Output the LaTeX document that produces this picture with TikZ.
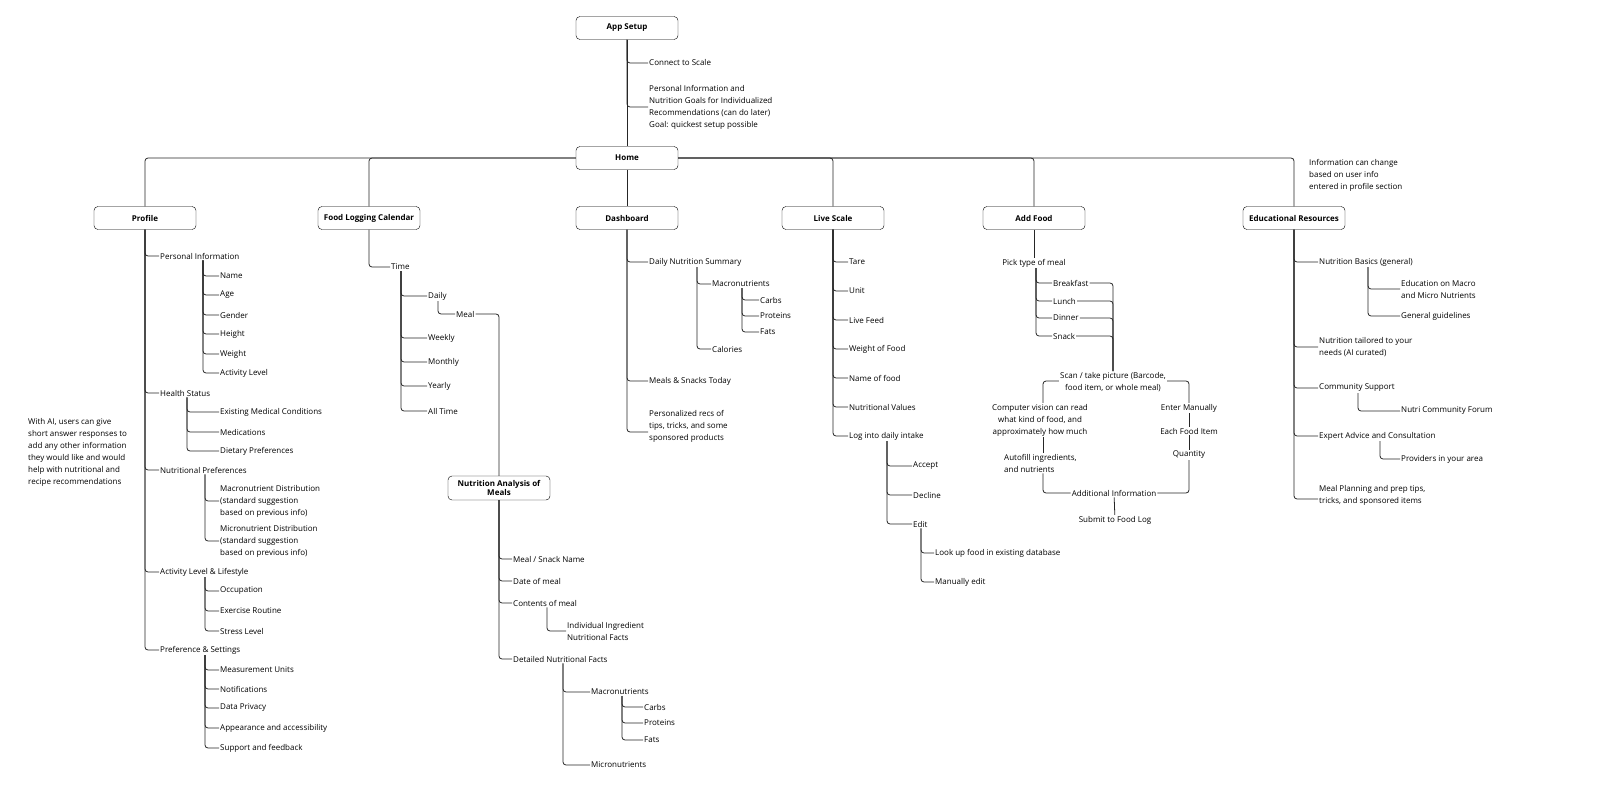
\documentclass[tikz,border=0pt]{standalone}
\usepackage{fontspec}
\setmainfont{Open Sans}
\begin{document}
\begin{tikzpicture}[x=1pt,y=-1pt,
  box/.style={draw,rounded corners=4pt,minimum width=102pt,minimum height=23pt,font=\fontsize{8}{9.5}\selectfont\bfseries,align=center,inner sep=2pt,fill=white},
  t/.style={anchor=west,inner sep=1pt,font=\fontsize{8}{12}\selectfont,align=left},
  tc/.style={inner sep=1pt,font=\fontsize{8}{12}\selectfont,align=center},
  ln/.style={draw,line width=0.8pt,rounded corners=3pt,color=black!85}]
\newcommand{\conn}[3]{\path[ln] (#1,0 |- #2.south) |- (#3.west);}
\useasboundingbox (0,0) rectangle (1600,800);
% boxes
\node[box] (app) at (627,28) {App Setup};
\node[box] (home) at (627,158) {Home};
\node[box] (prof) at (145,218) {Profile};
\node[box] (flc) at (369,218) {Food Logging Calendar};
\node[box] (dash) at (627,218) {Dashboard};
\node[box] (live) at (833,218) {Live Scale};
\node[box] (add) at (1034,218) {Add Food};
\node[box] (edu) at (1294,218) {Educational Resources};
\node[box,minimum height=24pt,font=\fontsize{8}{9}\selectfont\bfseries] (nam) at (499,488) {Nutrition Analysis of\\Meals};
% app setup
\node[t] (cs) at (648,63) {Connect to Scale};
\node[t] (pinfo) at (648,107) {Personal Information and\\Nutrition Goals for Individualized\\Recommendations (can do later)\\Goal: quickest setup possible};
\path[ln] (app) -- (home);
\conn{627}{app}{cs}
\conn{627}{app}{pinfo}
% home bar
\path[ln] (home.west) -| (prof.north);
\path[ln] (home.west) -| (flc.north);
\path[ln] (home.east) -| (live.north);
\path[ln] (home.east) -| (add.north);
\path[ln] (home.east) -| (edu.north);
\path[ln] (home) -- (dash);
\node[t] at (1308,175) {Information can change\\based on user info\\entered in profile section};
% Profile
\node[t] (pi) at (159,256) {Personal Information};
\node[t] (hs) at (159,393) {Health Status};
\node[t] (np) at (159,470) {Nutritional Preferences};
\node[t] (al) at (159,572) {Activity Level \& Lifestyle};
\node[t] (ps) at (159,650) {Preference \& Settings};
\foreach \n in {pi,hs,np,al,ps}{\conn{145}{prof}{\n}}
\node[t] (p1) at (219,276) {Name};
\node[t] (p2) at (219,295) {Age};
\node[t] (p3) at (219,315) {Gender};
\node[t] (p4) at (219,334) {Height};
\node[t] (p5) at (219,354) {Weight};
\node[t] (p6) at (219,373) {Activity Level};
\foreach \n in {p1,p2,p3,p4,p5,p6}{\conn{203}{pi}{\n}}
\node[t] (h1) at (219,412) {Existing Medical Conditions};
\node[t] (h2) at (219,432) {Medications};
\node[t] (h3) at (219,451) {Dietary Preferences};
\foreach \n in {h1,h2,h3}{\conn{187}{hs}{\n}}
\node[t] (n1) at (219,501) {Macronutrient Distribution\\(standard suggestion\\based on previous info)};
\node[t] (n2) at (219,541) {Micronutrient Distribution\\(standard suggestion\\based on previous info)};
\conn{205}{np}{n1}
\conn{205}{np}{n2}
\node[t] (a1) at (219,591) {Occupation};
\node[t] (a2) at (219,611) {Exercise Routine};
\node[t] (a3) at (219,631) {Stress Level};
\foreach \n in {a1,a2,a3}{\conn{205}{al}{\n}}
\node[t] (s1) at (219,670) {Measurement Units};
\node[t] (s2) at (219,689) {Notifications};
\node[t] (s3) at (219,708) {Data Privacy};
\node[t] (s4) at (219,728) {Appearance and accessibility};
\node[t] (s5) at (219,748) {Support and feedback};
\foreach \n in {s1,s2,s3,s4,s5}{\conn{205}{ps}{\n}}
\node[t] at (27,452) {With AI, users can give\\short answer responses to\\add any other information\\they would like and would\\help with nutritional and\\recipe recommendations};
% Food logging calendar
\node[t] (time) at (390,267) {Time};
\conn{369}{flc}{time}
\node[t] (d1) at (427,296) {Daily};
\node[t] (d2) at (427,338) {Weekly};
\node[t] (d3) at (427,362) {Monthly};
\node[t] (d4) at (427,386) {Yearly};
\node[t] (d5) at (427,411) {All Time};
\foreach \n in {d1,d2,d3,d4,d5}{\conn{401}{time}{\n}}
\node[t] (meal) at (455,314) {Meal};
\conn{438}{d1}{meal}
\path[ln] (meal.east) -| (nam.north);
\node[t] (m1) at (512,559) {Meal / Snack Name};
\node[t] (m2) at (512,581) {Date of meal};
\node[t] (m3) at (512,603) {Contents of meal};
\node[t] (m4) at (512,659) {Detailed Nutritional Facts};
\foreach \n in {m1,m2,m3,m4}{\conn{499}{nam}{\n}}
\node[t] (ii) at (566,631) {Individual Ingredient\\Nutritional Facts};
\conn{547}{m3}{ii}
\node[t] (mac) at (590,692) {Macronutrients};
\node[t] (mic) at (590,765) {Micronutrients};
\conn{563}{m4}{mac}
\conn{563}{m4}{mic}
\node[t] (c1) at (643,707) {Carbs};
\node[t] (c2) at (643,723) {Proteins};
\node[t] (c3) at (643,740) {Fats};
\foreach \n in {c1,c2,c3}{\conn{622}{mac}{\n}}
% Dashboard
\node[t] (dn) at (648,262) {Daily Nutrition Summary};
\node[t] (ms) at (648,381) {Meals \& Snacks Today};
\node[t] (pr) at (648,426) {Personalized recs of\\tips, tricks, and some\\sponsored products};
\conn{627}{dash}{dn}
\conn{627}{dash}{ms}
\path[ln] (627,0 |- dash.south) |- ([yshift=-6pt]pr.west);
\node[t] (dm) at (711,284) {Macronutrients};
\node[t] (dc) at (711,349) {Calories};
\conn{697}{dn}{dm}
\conn{697}{dn}{dc}
\node[t] (e1) at (759,300) {Carbs};
\node[t] (e2) at (759,316) {Proteins};
\node[t] (e3) at (759,332) {Fats};
\foreach \n in {e1,e2,e3}{\conn{742}{dm}{\n}}
% Live scale
\node[t] (l1) at (848,262) {Tare};
\node[t] (l2) at (848,291) {Unit};
\node[t] (l3) at (848,320) {Live Feed};
\node[t] (l4) at (848,349) {Weight of Food};
\node[t] (l5) at (848,378) {Name of food};
\node[t] (l6) at (848,407) {Nutritional Values};
\node[t] (l7) at (848,436) {Log into daily intake};
\foreach \n in {l1,l2,l3,l4,l5,l6,l7}{\conn{833}{live}{\n}}
\node[t] (g1) at (912,466) {Accept};
\node[t] (g2) at (912,495) {Decline};
\node[t] (g3) at (912,524) {Edit};
\foreach \n in {g1,g2,g3}{\conn{887}{l7}{\n}}
\node[t] (k1) at (934,553) {Look up food in existing database};
\node[t] (k2) at (934,582) {Manually edit};
\conn{921}{g3}{k1}
\conn{921}{g3}{k2}
% Add food
\node[tc] (pick) at (1034,263) {Pick type of meal};
\path[ln] (add) -- (pick);
\node[t] (b1) at (1052,283) {Breakfast};
\node[t] (b2) at (1052,301) {Lunch};
\node[t] (b3) at (1052,318) {Dinner};
\node[t] (b4) at (1052,336) {Snack};
\foreach \n in {b1,b2,b3,b4}{\conn{1036}{pick}{\n}}
\node[tc] (scan) at (1113,382) {Scan / take picture (Barcode,\\food item, or whole meal)};
\foreach \n in {b1,b2,b3,b4}{\path[ln] (\n.east) -| (scan.north);}
\node[tc] (cv) at (1040,420) {Computer vision can read\\what kind of food, and\\approximately how much};
\node[t] (af) at (1003,463) {Autofill ingredients,\\and nutrients};
\node[tc] (em) at (1189,408) {Enter Manually};
\node[tc] (ef) at (1189,431) {Each Food Item};
\node[tc] (qt) at (1189,455) {Quantity};
\node[tc] (ai) at (1114,493) {Additional Information};
\node[tc] (sub) at (1115,520) {Submit to Food Log};
\path[ln] ([yshift=1pt]scan.west) -| (1043,0 |- cv.north);
\path[ln] (1043,0 |- cv.south) -- (1043,0 |- af.north);
\path[ln] (1043,0 |- af.south) |- (ai.west);
\path[ln] ([yshift=1pt]scan.east) -| (em.north);
\path[ln] (em) -- (ef);
\path[ln] (ef) -- (qt);
\path[ln] (qt.south) |- (ai.east);
\path[ln] (ai) -- (sub);
% Educational
\node[t] (r1) at (1318,262) {Nutrition Basics (general)};
\node[t] (r2) at (1318,347) {Nutrition tailored to your\\needs (AI curated)};
\node[t] (r3) at (1318,388) {Community Support};
\node[t] (r4) at (1318,436) {Expert Advice and Consultation};
\node[t] (r5) at (1318,495) {Meal Planning and prep tips,\\tricks, and sponsored items};
\foreach \n in {r1,r2,r3,r4}{\conn{1294}{edu}{\n}}
\path[ln] (1294,0 |- edu.south) |- ([yshift=-4pt]r5.west);
\node[t] (q1) at (1400,289) {Education on Macro\\and Micro Nutrients};
\node[t] (q2) at (1400,316) {General guidelines};
\conn{1368}{r1}{q1}
\conn{1368}{r1}{q2}
\node[t] (q3) at (1400,411) {Nutri Community Forum};
\conn{1358}{r3}{q3}
\node[t] (q4) at (1400,459) {Providers in your area};
\conn{1380}{r4}{q4}
\end{tikzpicture}
\end{document}
